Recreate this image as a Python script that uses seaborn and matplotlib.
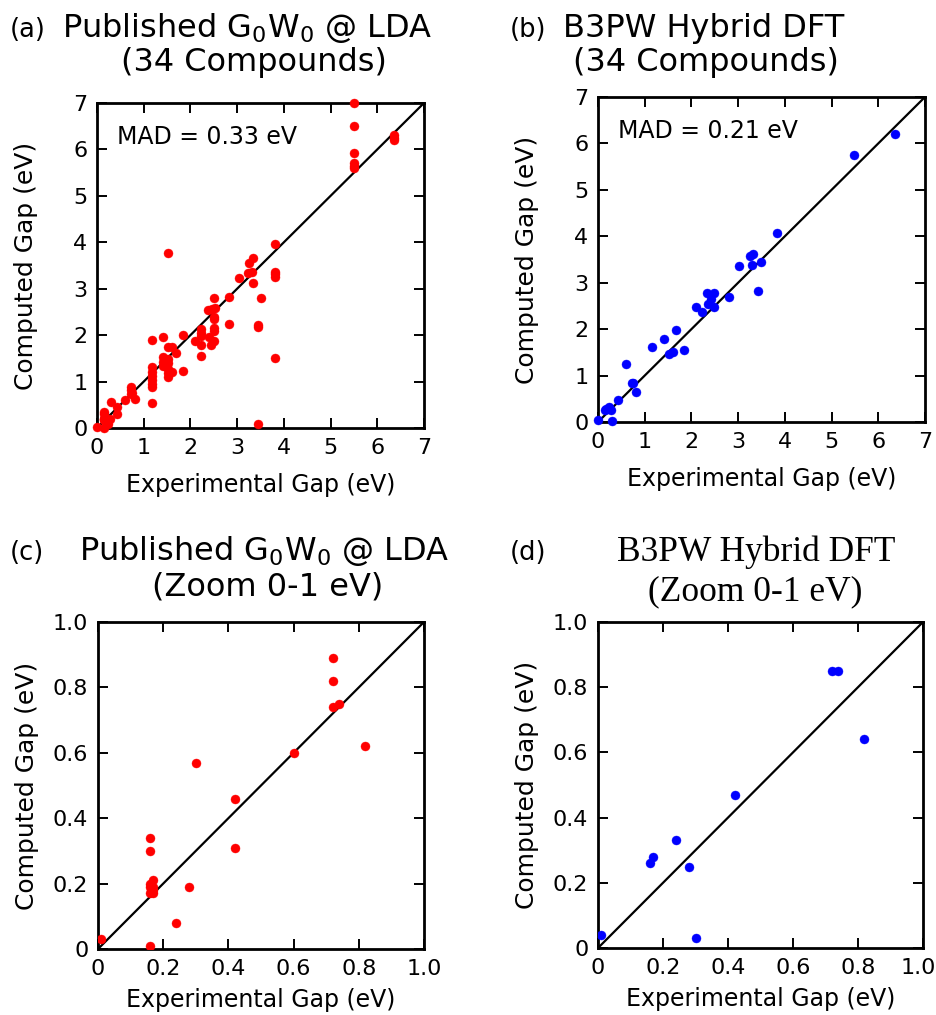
import numpy as np
import pandas as pd
import matplotlib
matplotlib.use("Agg")
import matplotlib.pyplot as plt
import matplotlib.transforms as mtransforms
import seaborn as sns

# ---------------- data ----------------
# Published G0W0 @ LDA : experimental gap vs computed gap (eV)
gw_exp = [0.01, 0.16, 0.16, 0.16, 0.16, 0.17, 0.16, 0.17, 0.17, 0.16, 0.17,
          0.24, 0.28, 0.30, 0.42, 0.42, 0.60, 0.72, 0.72, 0.72, 0.74, 0.82,
          1.17, 1.17, 1.17, 1.17, 1.17, 1.17, 1.17, 1.17,
          1.42, 1.42, 1.42, 1.42,
          1.51, 1.51, 1.51, 1.51, 1.51, 1.51, 1.51,
          1.61, 1.61, 1.70, 1.85, 1.85, 2.10,
          2.23, 2.23, 2.23, 2.23, 2.23,
          2.37, 2.46, 2.53, 2.40, 2.43,
          2.50, 2.50, 2.50, 2.50, 2.50, 2.50,
          2.83, 2.83, 3.03, 3.24, 3.31, 3.26, 3.34, 3.33,
          3.44, 3.44, 3.44, 3.50,
          3.80, 3.80, 3.80, 3.80, 3.80,
          5.50, 5.50, 5.50, 5.50, 5.50, 5.50,
          6.35, 6.35, 6.35]
gw_calc = [0.03, 0.01, 0.34, 0.30, 0.20, 0.21, 0.19, 0.19, 0.18, 0.17, 0.17,
           0.08, 0.19, 0.57, 0.46, 0.31, 0.60, 0.89, 0.82, 0.74, 0.75, 0.62,
           1.90, 1.31, 1.21, 1.12, 1.03, 0.95, 0.88, 0.53,
           1.97, 1.52, 1.43, 1.34,
           1.74, 1.48, 1.39, 1.28, 1.18, 1.09, 3.76,
           1.75, 1.21, 1.62, 2.00, 1.23, 1.88,
           2.13, 2.04, 1.98, 1.79, 1.55,
           2.54, 2.57, 2.58, 1.97, 1.79,
           2.81, 2.40, 2.34, 2.15, 2.09, 1.88,
           2.83, 2.23, 3.24, 3.33, 3.35, 3.55, 3.67, 3.13,
           2.22, 2.18, 0.08, 2.81,
           3.96, 3.37, 3.31, 3.26, 1.50,
           7.00, 6.50, 5.92, 5.70, 5.65, 5.60,
           6.31, 6.25, 6.20]

# B3PW hybrid DFT (34 compounds)
hy_exp = [0.01, 0.30, 0.16, 0.17, 0.24, 0.28, 0.42, 0.72, 0.74, 0.82,
          0.60, 1.16, 1.41, 1.52, 1.61, 1.68, 1.84,
          2.10, 2.23, 2.34, 2.49, 2.41, 2.36, 2.49,
          2.81, 3.02, 3.25, 3.32, 3.29, 3.49, 3.43, 3.83, 5.48, 6.35]
hy_calc = [0.04, 0.03, 0.26, 0.28, 0.33, 0.25, 0.47, 0.85, 0.85, 0.64,
           1.25, 1.61, 1.78, 1.46, 1.51, 1.98, 1.56,
           2.48, 2.36, 2.77, 2.77, 2.66, 2.54, 2.48,
           2.69, 3.35, 3.58, 3.62, 3.38, 3.44, 2.82, 4.08, 5.75, 6.20]

full_ticks = [0, 1, 2, 3, 4, 5, 6, 7]
full_labels = ["0", "1", "2", "3", "4", "5", "6", "7"]
zoom_ticks = [0, 0.2, 0.4, 0.6, 0.8, 1.0]
zoom_labels = ["0", "0.2", "0.4", "0.6", "0.8", "1.0"]

mad_gw = "MAD = 0.33 eV"
mad_hy = "MAD = 0.21 eV"
xlabel = "Experimental Gap (eV)"
ylabel = "Computed Gap (eV)"

gw = pd.DataFrame({"exp": gw_exp, "calc": gw_calc})
hy = pd.DataFrame({"exp": hy_exp, "calc": hy_calc})

# ---------------- style ----------------
sns.set_style("ticks")
plt.rcParams["font.family"] = ["DejaVu Sans"]
plt.rcParams["mathtext.fontset"] = "dejavusans"
plt.rcParams["mathtext.default"] = "regular"
plt.rcParams["text.color"] = "black"
plt.rcParams["axes.labelcolor"] = "black"
plt.rcParams["xtick.color"] = "black"
plt.rcParams["ytick.color"] = "black"

W, H = 936, 1015
fig = plt.figure(figsize=(W / 100, H / 100), dpi=100)


def add_ax(l, t, r, b):
    return fig.add_axes([l / W, 1 - b / H, (r - l) / W, (b - t) / H])


axa = add_ax(97, 103, 424, 428)
axb = add_ax(598, 97, 925, 422)
axc = add_ax(98, 622, 424, 949)
axd = add_ax(598, 622, 923, 948)

specs = [
    (axa, gw, "red", 7, full_ticks, full_labels, mad_gw, False, 25, 11),
    (axb, hy, "blue", 7, full_ticks, full_labels, mad_hy, False, 25, 11),
    (axc, gw, "red", 1.0, zoom_ticks, zoom_labels, None, True, 10, 7),
    (axd, hy, "blue", 1.0, zoom_ticks, zoom_labels, None, True, 10, 7),
]

for ax, df, col, lim, ticks, labels, mad, clip, ypad, xpad in specs:
    ax.plot([0, lim], [0, lim], color="black", lw=1.6, zorder=2)
    sns.scatterplot(data=df, x="exp", y="calc", ax=ax, color=col, s=42,
                    edgecolor=col, linewidth=0.3, zorder=3, clip_on=clip,
                    legend=False)
    ax.set_xlim(0, lim)
    ax.set_ylim(0, lim)
    ax.set_xticks(ticks)
    ax.set_yticks(ticks)
    ax.set_xticklabels(labels)
    ax.set_yticklabels(labels)
    ax.tick_params(direction="in", length=7, width=1.4, top=True, right=True,
                   labelsize=16, pad=7, colors="black")
    for sp in ax.spines.values():
        sp.set_visible(True)
        sp.set_linewidth(2.0)
        sp.set_color("black")
    ax.set_xlabel(xlabel, fontsize=17, labelpad=xpad)
    ax.set_ylabel(ylabel, fontsize=18, labelpad=ypad)
    if mad:
        ax.text(0.06, 0.875, mad, transform=ax.transAxes, fontsize=17,
                va="baseline", ha="left")

# keep the last x tick label of panel (d) inside the figure edge
last = axd.get_xticklabels()[-1]
last.set_transform(last.get_transform() +
                   mtransforms.ScaledTranslation(-5 / 100, 0, fig.dpi_scale_trans))


def ftext(x, y, s, **kw):
    fig.text(x / W, 1 - y / H, s, va="baseline", **kw)


tsize = 23
ftext(10, 37, "(a)", fontsize=18.5, ha="left")
ftext(247, 37, "Published G$_0$W$_0$ @ LDA", fontsize=tsize, ha="center")
ftext(254, 71, "(34 Compounds)", fontsize=tsize, ha="center")

ftext(510, 37, "(b)", fontsize=18.5, ha="left")
ftext(704, 37, "B3PW Hybrid DFT", fontsize=tsize, ha="center")
ftext(706, 71, "(34 Compounds)", fontsize=tsize, ha="center")

ftext(10, 560, "(c)", fontsize=18.5, ha="left")
ftext(264, 560, "Published G$_0$W$_0$ @ LDA", fontsize=tsize, ha="center")
ftext(268, 595, "(Zoom 0-1 eV)", fontsize=tsize, ha="center")

ftext(510, 560, "(d)", fontsize=18.5, ha="left")
ftext(756, 561, "B3PW Hybrid DFT", fontsize=25.5, ha="center",
      family=["Liberation Serif", "DejaVu Serif"])
ftext(755, 600, "(Zoom 0-1 eV)", fontsize=25.5, ha="center",
      family=["Liberation Serif", "DejaVu Serif"])

fig.savefig("out.png", dpi=100, facecolor="white")
